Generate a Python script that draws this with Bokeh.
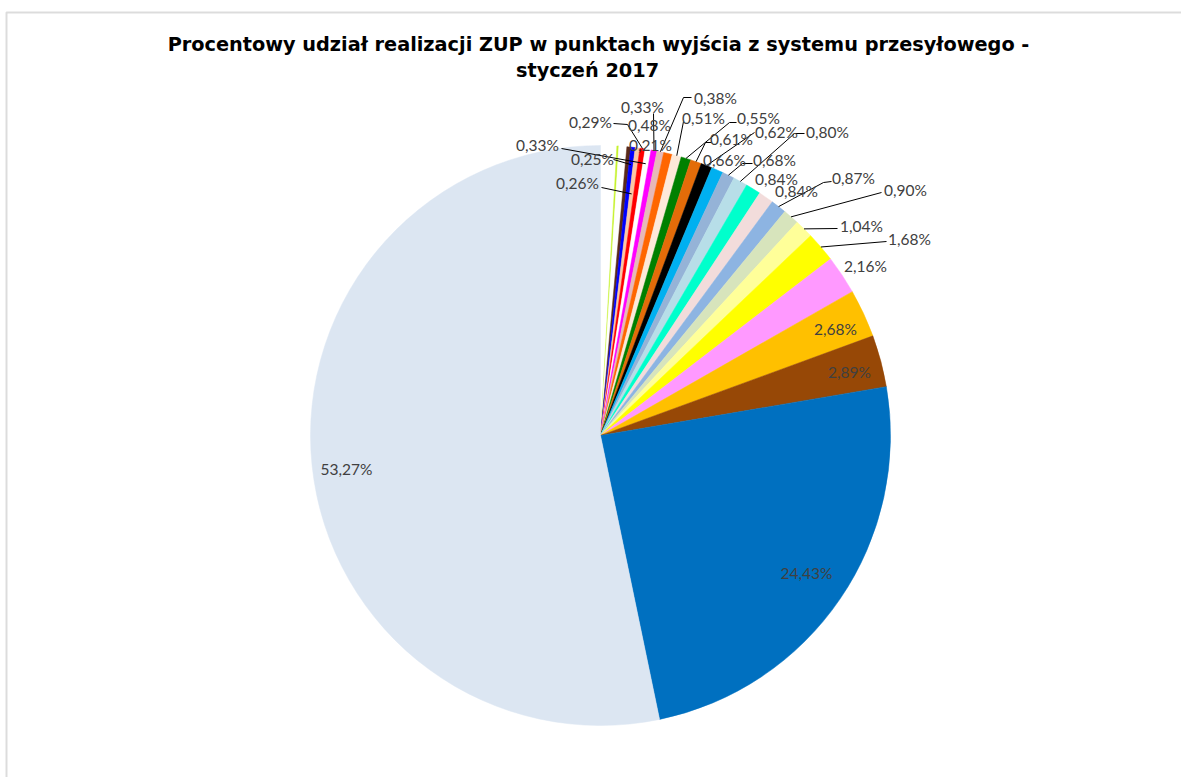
import math
from bokeh.plotting import figure
from bokeh.models import Range1d, BoxAnnotation, Label, ColumnDataSource
from bokeh.core.properties import value
from bokeh.embed import file_html
from bokeh.resources import INLINE

W, H = 1181, 777

# ---- data (clockwise from 12 o'clock) ----
categories = [
    "p01", "p02", "p03", "p04", "p05", "p06", "p07", "p08", "p09", "p10",
    "p11", "p12", "p13", "p14", "p15", "p16", "p17", "p18", "p19", "p20",
    "p21", "p22", "p23", "p24", "p25", "p26", "p27", "p28", "p29",
]
shares = [
    0.90, 0.11, 0.44, 0.21, 0.25, 0.26, 0.29, 0.33, 0.33, 0.38,
    0.48, 0.51, 0.55, 0.61, 0.62, 0.66, 0.68, 0.80, 0.84, 0.84,
    0.87, 0.90, 1.04, 1.68, 2.16, 2.68, 2.89, 24.43, 53.27,
]
labelled = [
    False, False, False, True, True, True, True, True, True, True,
    True, True, True, True, True, True, True, True, True, True,
    True, True, True, True, True, True, True, True, True,
]
colors = [
    "#FFFFFF", "#C6F22E", "#FFFFFF", "#5A2A1A", "#0000FF", "#FAC8A4", "#FF0000",
    "#FFFFFF", "#FF00FF", "#E6B9B8", "#FF6600", "#FDE9D9", "#008000", "#E36C09",
    "#000000", "#00B0F0", "#95B3D7", "#B7DEE8", "#00FFCC", "#F2DCDB", "#8DB4E2",
    "#D7E4BC", "#FFFF99", "#FFFF00", "#FF99FF", "#FFC000", "#974806", "#0070C0",
    "#DCE6F2",
]

title_1 = "Procentowy udział realizacji ZUP w punktach wyjścia z systemu przesyłowego -"
title_2 = "styczeń 2017"

# ---- layout (screen pixels, y measured from top) ----
CX, CY, R = 600, 435, 290
# label centre, leader start points, leader end radius fraction
label_layout = {
    3: ((650, 144), None, 1.0),
    4: ((592, 158), [(613, 159)], 0.94),
    5: ((577, 182), [(601, 187)], 0.84),
    6: ((590, 121), [(613, 123), (627, 124)], 1.0),
    7: ((537, 144), [(561, 148)], 0.95),
    8: ((642, 106), [(653, 113)], 1.0),
    9: ((715, 97), [(691, 97), (683, 97)], 1.0),
    10: ((649, 124), None, 1.0),
    11: ((703, 117), [(683, 121)], 1.0),
    12: ((758, 117), [(736, 122), (729, 122)], 1.0),
    13: ((731, 138), [(711, 142), (705, 142)], 1.0),
    14: ((776, 131), [(754, 132)], 1.0),
    15: ((724, 159), None, 1.0),
    16: ((774, 159), [(752, 163), (742, 163)], 1.0),
    17: ((827, 131), [(804, 133), (794, 133)], 1.0),
    18: ((776, 178), None, 1.0),
    19: ((796, 190), None, 1.0),
    20: ((853, 177), [(831, 181), (823, 182)], 1.0),
    21: ((905, 189), [(881, 192)], 1.0),
    22: ((861, 225), [(837, 228)], 1.0),
    23: ((909, 238), [(886, 241)], 1.0),
    24: ((865, 265), None, 1.0),
    25: ((835, 328), None, 1.0),
    26: ((849, 371), None, 1.0),
    27: ((806, 572), None, 1.0),
    28: ((346, 468), None, 1.0),
}


def Y(py):
    return H - py


total = sum(shares)
starts, ends, mids = [], [], []
acc = 0.0
for v in shares:
    f0 = acc / total
    acc += v
    f1 = acc / total
    starts.append(math.pi / 2 - 2 * math.pi * f0)
    ends.append(math.pi / 2 - 2 * math.pi * f1)
    mids.append(2 * math.pi * (f0 + f1) / 2)

p = figure(width=W, height=H, x_range=Range1d(0, W), y_range=Range1d(0, H),
           output_backend="svg", toolbar_location=None, min_border=0,
           x_axis_location=None, y_axis_location=None)
p.grid.visible = False
p.outline_line_color = None
p.background_fill_color = "white"
p.border_fill_color = "white"

src = ColumnDataSource(dict(cat=categories, share=shares, start=starts, end=ends, color=colors))
p.wedge(x=CX, y=Y(CY), radius=R, start_angle="start", end_angle="end", direction="clock",
        fill_color="color", line_color="color", line_width=0.5, source=src)

# chart area border
p.add_layout(BoxAnnotation(left=6, right=W + 20, bottom=-20, top=Y(12),
                           fill_alpha=0, line_color="#8C8C8C", line_width=2))

# data labels & leader lines
lx, ly, lt = [], [], []
xs, ys = [], []
for i, v in enumerate(shares):
    if not labelled[i] or i not in label_layout:
        continue
    (cx, cy), leader, frac = label_layout[i]
    lx.append(cx)
    ly.append(Y(cy))
    lt.append(f"{v:.2f}".replace(".", ",") + "%")
    if leader:
        th = mids[i]
        ex = CX + frac * R * math.sin(th)
        ey = Y(CY) + frac * R * math.cos(th)
        xs.append([pt[0] for pt in leader] + [ex])
        ys.append([Y(pt[1]) for pt in leader] + [ey])

p.multi_line(xs=xs, ys=ys, line_color="black", line_width=1)
p.text(x=lx, y=ly, text=lt, text_align="center", text_baseline="middle",
       text_font=value("Lato"), text_font_size="15.5px", text_color="#404040")

p.add_layout(Label(x=598, y=Y(44), text=title_1, text_align="center", text_baseline="middle",
                   text_font="DejaVu Sans", text_font_style="bold", text_font_size="19.3px",
                   text_color="black"))
p.add_layout(Label(x=587, y=Y(70), text=title_2, text_align="center", text_baseline="middle",
                   text_font="DejaVu Sans", text_font_style="bold", text_font_size="19.3px",
                   text_color="black"))

open("out.html", "w").write(file_html(p, INLINE))
